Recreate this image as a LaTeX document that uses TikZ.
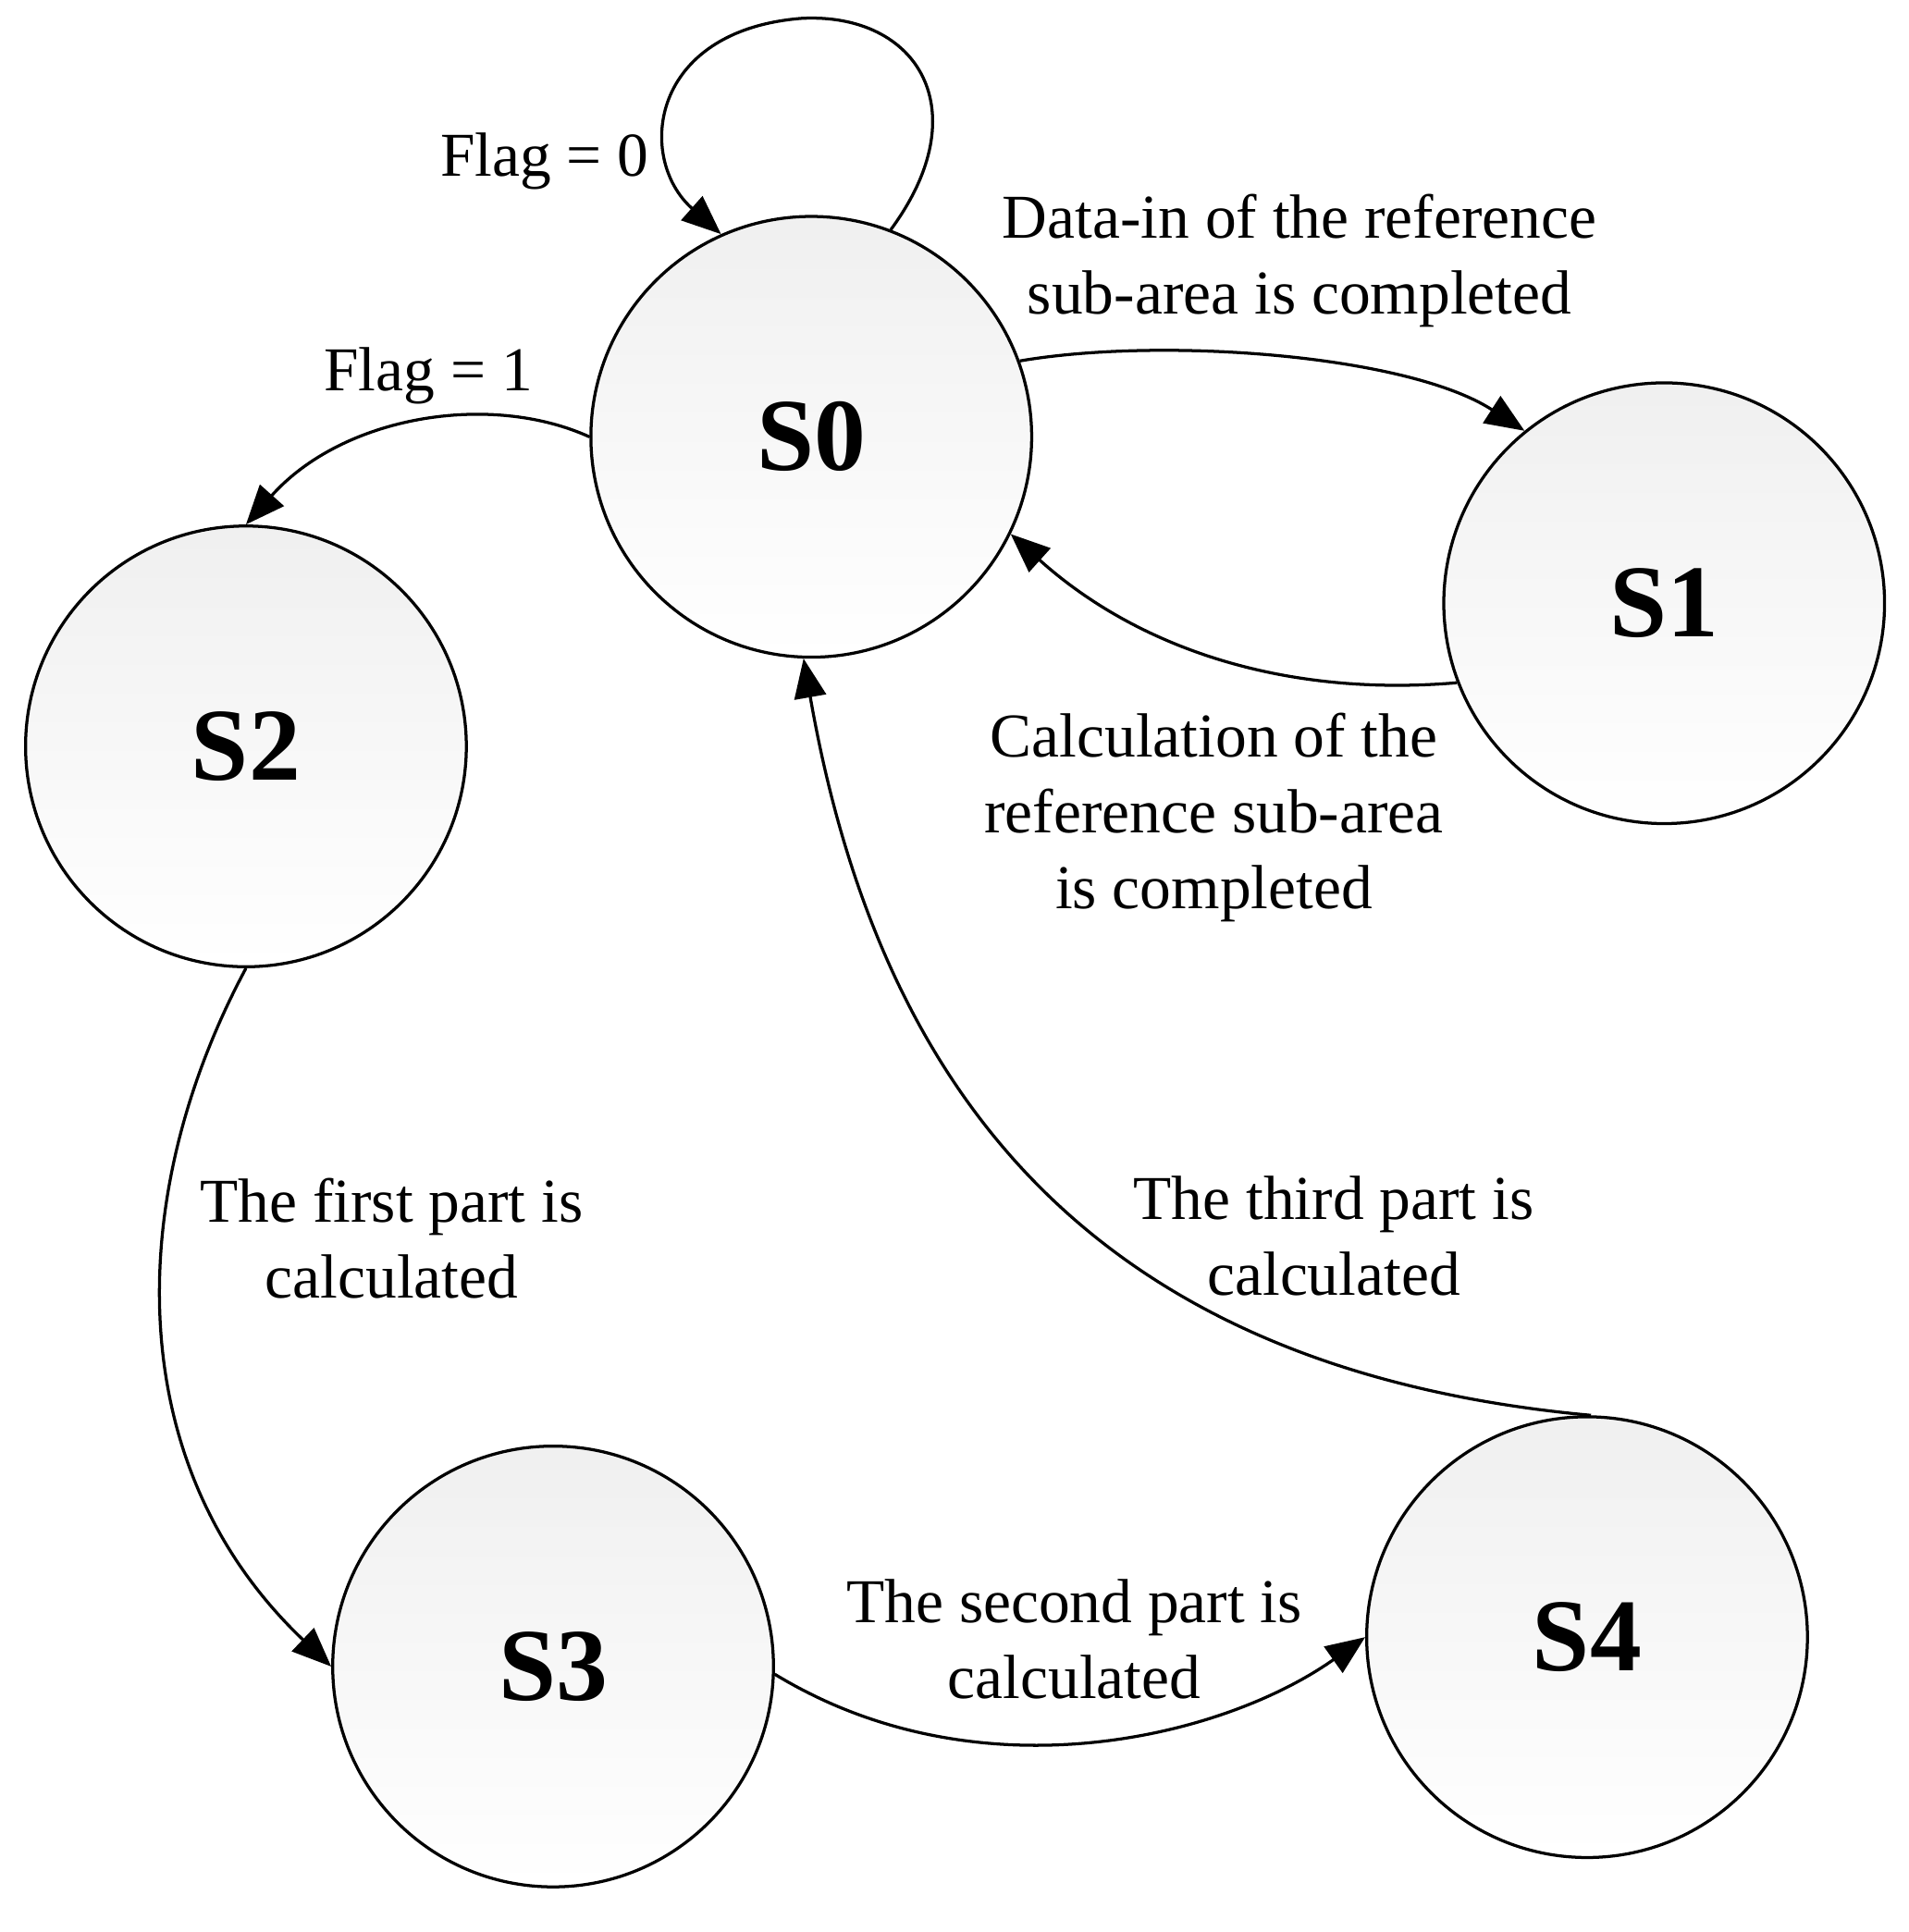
\documentclass[tikz,border=0pt]{standalone}
\usepackage{fontspec}
\setmainfont{Liberation Serif}
\usetikzlibrary{arrows.meta}
\begin{document}
\begin{tikzpicture}[x=0.01cm,y=-0.01cm,
  st/.style={circle,draw,line width=0.7pt,minimum size=3.6cm,inner sep=0pt,top color=gray!12,bottom color=white,font=\fontsize{24}{28}\selectfont\bfseries},
  ar/.style={line width=0.7pt,-{Triangle[length=0.32cm,width=0.26cm]}},
  lb/.style={align=center,font=\fontsize{14.5}{17.6}\selectfont}]
\useasboundingbox (0,0) rectangle (1560,1579);
\node[st] (s0) at (663,357) {S0};
\node[st] (s1) at (1360,493) {S1};
\node[st] (s2) at (201,610) {S2};
\node[st] (s3) at (452,1362) {S3};
\node[st] (s4) at (1297,1338) {S4};
\draw[ar] (s0.69) .. controls (800,90) and (750,10) .. (655,15) .. controls (530,25) and (520,130) .. (s0.114);
\draw[ar] (s0.20) .. controls (950,275) and (1150,290) .. (s1.129);
\draw[ar] (s1.-159) .. controls (1050,570) and (930,530) .. (s0.-26);
\draw[ar] (s0.180) .. controls (400,320) and (280,340) .. (s2.90);
\draw[ar] (s2.-90) .. controls (100,980) and (100,1200) .. (s3.180);
\draw[ar] (s3.-2) .. controls (800,1470) and (1000,1420) .. (s4.180);
\draw[ar] (s4.89) .. controls (900,1120) and (720,900) .. (s0.-92);
\node[lb] (l1) at (445,132) {Flag = 0};
\node[lb] (l2) at (1062,213) {Data-in of the reference\\sub-area is completed};
\node[lb] (l3) at (350,307) {Flag = 1};
\node[lb] (l4) at (992,668) {Calculation of the\\reference sub-area\\is completed};
\node[lb] (l5) at (320,1012) {The first part is\\calculated};
\node[lb] (l6) at (1090,1010) {The third part is\\calculated};
\node[lb] (l7) at (878,1340) {The second part is\\calculated};
\end{tikzpicture}
\end{document}
